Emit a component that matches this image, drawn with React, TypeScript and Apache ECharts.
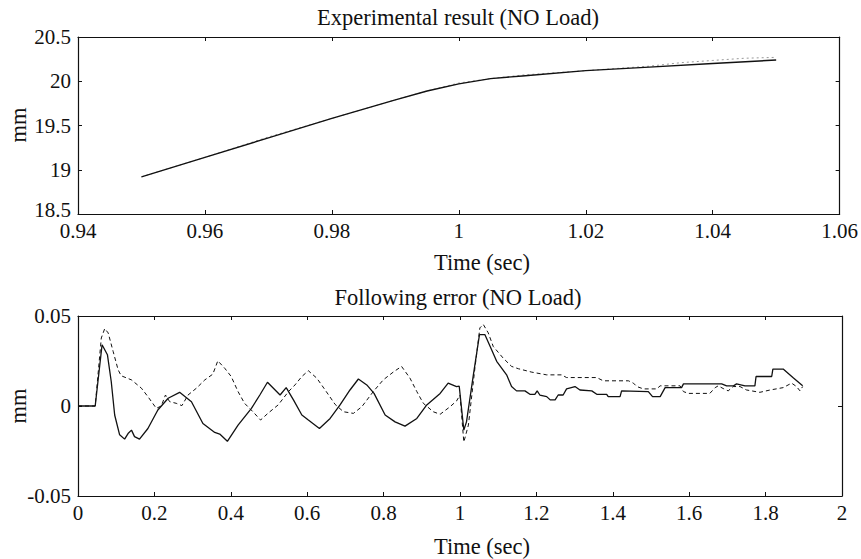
import React, { useEffect, useRef } from "react";
import * as echarts from "echarts";

// ---- Data ----
const topTitle = "Experimental result (NO Load)";
const bottomTitle = "Following error (NO Load)";
const xName = "Time (sec)";
const yName = "mm";

// Top panel: measured position (solid) and reference (dotted)
const topActual: number[][] = [
  [0.95, 18.92], [0.96, 19.14], [0.97, 19.36], [0.98, 19.58], [0.99, 19.79],
  [0.995, 19.89], [1.0, 19.97], [1.005, 20.03], [1.01, 20.06], [1.02, 20.12],
  [1.03, 20.16], [1.04, 20.2], [1.05, 20.24],
];
const topReference: number[][] = [
  [0.95, 18.92], [0.96, 19.14], [0.97, 19.37], [0.98, 19.58], [0.99, 19.79],
  [0.995, 19.89], [1.0, 19.98], [1.005, 20.03], [1.01, 20.07], [1.02, 20.12],
  [1.03, 20.17], [1.035, 20.21], [1.04, 20.235], [1.045, 20.26], [1.05, 20.27],
];

// Bottom panel: following error, solid and dashed
const errSolid: number[][] = [
  [0, 0], [0.045, 0], [0.063, 0.034], [0.077, 0.0285], [0.087, 0.0136],
  [0.096, -0.005], [0.109, -0.016], [0.122, -0.0184], [0.131, -0.0153],
  [0.14, -0.0134], [0.148, -0.017], [0.161, -0.0184], [0.183, -0.0125],
  [0.209, -0.0022], [0.236, 0.0043], [0.266, 0.0076], [0.297, 0.0024],
  [0.327, -0.0097], [0.358, -0.0147], [0.371, -0.0156], [0.391, -0.0196],
  [0.419, -0.0106], [0.454, -0.0013], [0.476, 0.0061], [0.496, 0.0132],
  [0.529, 0.0061], [0.545, 0.0102], [0.564, 0.0034], [0.586, -0.005],
  [0.603, -0.0078], [0.632, -0.0125], [0.66, -0.0069], [0.686, 0.0006],
  [0.712, 0.0089], [0.734, 0.015], [0.756, 0.0117], [0.775, 0.007],
  [0.804, -0.005], [0.83, -0.0088], [0.856, -0.0112], [0.887, -0.0069],
  [0.913, 0.0006], [0.948, 0.007], [0.969, 0.0127], [0.991, 0.0108],
  [0.998, 0.011], [1.01, -0.0134], [1.017, -0.0088], [1.035, 0.0173],
  [1.051, 0.0397], [1.065, 0.0397], [1.079, 0.0331], [1.096, 0.0248],
  [1.122, 0.0173], [1.135, 0.0108], [1.148, 0.0084], [1.17, 0.0084],
  [1.183, 0.0065], [1.196, 0.0065], [1.202, 0.0084], [1.209, 0.0061],
  [1.227, 0.0052], [1.236, 0.0034], [1.249, 0.0034], [1.257, 0.0061],
  [1.27, 0.0061], [1.279, 0.0095], [1.301, 0.0108], [1.314, 0.0089],
  [1.345, 0.0084], [1.358, 0.0065], [1.384, 0.0065], [1.388, 0.0052],
  [1.419, 0.0052], [1.423, 0.0084], [1.493, 0.008], [1.504, 0.0052],
  [1.524, 0.0052], [1.537, 0.0102], [1.58, 0.0102], [1.585, 0.0123],
  [1.654, 0.0123], [1.685, 0.0123], [1.698, 0.0112], [1.716, 0.0112],
  [1.724, 0.0123], [1.746, 0.0112], [1.772, 0.0112], [1.775, 0.0164],
  [1.816, 0.0164], [1.819, 0.0205], [1.846, 0.0205], [1.873, 0.0155],
  [1.897, 0.0113],
];
const errDashed: number[][] = [
  [0, 0], [0.045, 0], [0.061, 0.0378], [0.07, 0.043], [0.079, 0.0406],
  [0.092, 0.0303], [0.105, 0.0201], [0.113, 0.0168], [0.14, 0.0145],
  [0.166, 0.0099], [0.183, 0.0052], [0.205, -0.0013], [0.218, 0],
  [0.229, 0.0061], [0.24, 0.0024], [0.257, 0.0015], [0.272, 0.0002],
  [0.288, 0.0061], [0.31, 0.0099], [0.332, 0.0145], [0.353, 0.0177],
  [0.366, 0.0251], [0.384, 0.021], [0.401, 0.0164], [0.419, 0.008],
  [0.436, 0.0015], [0.458, -0.0032], [0.478, -0.0078], [0.497, -0.0041],
  [0.524, 0.0006], [0.551, 0.008], [0.568, 0.0117], [0.586, 0.0164],
  [0.603, 0.0196], [0.625, 0.0155], [0.647, 0.0089], [0.673, 0.0009],
  [0.695, -0.0032], [0.721, -0.0041], [0.743, -0.0004], [0.773, 0.008],
  [0.799, 0.0145], [0.825, 0.0188], [0.847, 0.022], [0.869, 0.0155],
  [0.887, 0.008], [0.904, 0.0015], [0.93, -0.0032], [0.948, -0.0046],
  [0.974, -0.0004], [0.991, 0.0028], [1.0, 0.0061], [1.01, -0.02],
  [1.022, -0.0106], [1.039, 0.021], [1.052, 0.0434], [1.061, 0.0453],
  [1.074, 0.0406], [1.087, 0.0331], [1.113, 0.0266], [1.135, 0.022],
  [1.153, 0.0207], [1.188, 0.0188], [1.227, 0.0173], [1.266, 0.0173],
  [1.279, 0.0158], [1.358, 0.0158], [1.375, 0.014], [1.441, 0.014],
  [1.454, 0.0127], [1.463, 0.0108], [1.48, 0.0095], [1.515, 0.0095],
  [1.524, 0.0112], [1.576, 0.0112], [1.585, 0.008], [1.598, 0.007],
  [1.654, 0.007], [1.668, 0.0102], [1.676, 0.0112], [1.689, 0.0097],
  [1.702, 0.0084], [1.715, 0.0108], [1.733, 0.0108], [1.75, 0.0089],
  [1.785, 0.0076], [1.812, 0.0089], [1.846, 0.0102], [1.868, 0.0127],
  [1.881, 0.0108], [1.89, 0.0084], [1.897, 0.0108],
];

// Axis ranges / ticks
const topX = { min: 0.94, max: 1.06, interval: 0.02 };
const topY = { min: 18.5, max: 20.5, interval: 0.5 };
const botX = { min: 0, max: 2, interval: 0.2 };
const botY = { min: -0.05, max: 0.05, interval: 0.05 };

const FONT = "'Liberation Serif', 'Times New Roman', serif";
const INK = "#111";

const fmt = (v: number) => String(+v.toFixed(3));

function App() {
  const ref = useRef<HTMLDivElement>(null);
  useEffect(() => {
    if (!ref.current) return;
    document.body.style.margin = "0";
    const chart = echarts.init(ref.current, undefined, { renderer: "svg" });

    const axisLine = { show: true, onZero: false, lineStyle: { color: INK, width: 1.2 } };
    const tick = { show: true, inside: true, length: 4, lineStyle: { color: INK, width: 1 } };
    const label = (margin: number, raiseMin?: number) => ({
      show: true,
      color: INK,
      fontFamily: FONT,
      fontSize: 21,
      margin,
      formatter: raiseMin !== undefined
        ? (v: number) => (Math.abs(v - raiseMin) < 1e-9 ? `{lo|${fmt(v)}}` : fmt(v))
        : fmt,
      rich: { lo: { fontFamily: FONT, fontSize: 21, color: INK, padding: [0, 0, 9, 0] } },
      hideOverlap: false,
      showMinLabel: true,
      showMaxLabel: true,
    });
    const mkX = (r: any, grid: number, pos: string, withLabel: boolean) => ({
      type: "value",
      gridIndex: grid,
      position: pos,
      ...r,
      axisLine,
      axisTick: tick,
      axisLabel: withLabel ? label(6) : { show: false },
      splitLine: { show: false },
    });
    const mkY = (r: any, grid: number, pos: string, withLabel: boolean, raiseMin?: number) => ({
      type: "value",
      gridIndex: grid,
      position: pos,
      ...r,
      axisLine,
      axisTick: tick,
      axisLabel: withLabel ? label(7, raiseMin) : { show: false },
      splitLine: { show: false },
    });

    const textEl = (text: string, x: number, y: number, rotation = 0) => ({
      type: "text",
      x,
      y,
      rotation,
      style: {
        text,
        fill: INK,
        font: `22.5px ${FONT}`,
        textAlign: "center",
        textVerticalAlign: "middle",
      },
    });

    chart.setOption({
      animation: false,
      backgroundColor: "#fff",
      grid: [
        { left: 78, right: 19, top: 37, height: 177 },
        { left: 78, right: 19, top: 316, height: 180 },
      ],
      xAxis: [
        mkX(topX, 0, "bottom", true),
        mkX(topX, 0, "top", false),
        mkX(botX, 1, "bottom", true),
        mkX(botX, 1, "top", false),
      ],
      yAxis: [
        mkY(topY, 0, "left", true, topY.min),
        mkY(topY, 0, "right", false),
        mkY(botY, 1, "left", true),
        mkY(botY, 1, "right", false),
      ],
      series: [
        {
          type: "line", xAxisIndex: 0, yAxisIndex: 0, data: topReference,
          showSymbol: false, lineStyle: { color: "#999", width: 1, type: [2, 3] },
        },
        {
          type: "line", xAxisIndex: 0, yAxisIndex: 0, data: topActual,
          showSymbol: false, lineStyle: { color: INK, width: 1.4 },
        },
        {
          type: "line", xAxisIndex: 2, yAxisIndex: 2, data: errDashed,
          showSymbol: false, lineStyle: { color: INK, width: 1, type: [4, 3] },
        },
        {
          type: "line", xAxisIndex: 2, yAxisIndex: 2, data: errSolid,
          showSymbol: false, lineStyle: { color: INK, width: 1.3 },
        },
      ],
      graphic: [
        textEl(topTitle, 458, 17),
        textEl(bottomTitle, 458, 297),
        textEl(xName, 482, 262),
        textEl(xName, 482, 546),
        textEl(yName, 18, 125, Math.PI / 2),
        textEl(yName, 18, 406, Math.PI / 2),
      ],
    });
    return () => chart.dispose();
  }, []);
  return <div ref={ref} style={{ width: 861, height: 559 }} />;
}

export default App;
